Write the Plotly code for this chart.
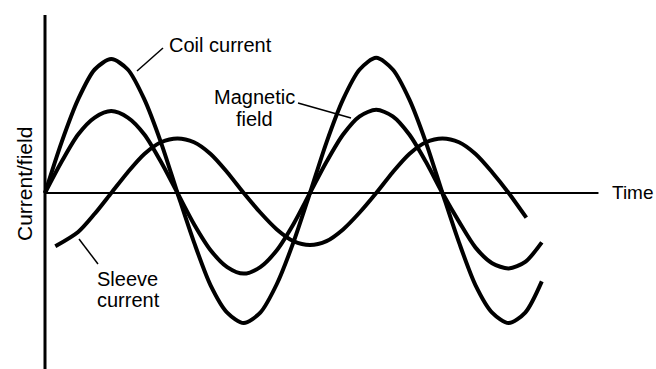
import plotly.graph_objects as go

# Phase (degrees of time) and values
coil_t = [0, 22.5, 45, 67.5, 90, 112.5, 135, 157.5, 180, 202.5, 225, 247.5, 270, 292.5, 315, 337.5,
          360, 382.5, 405, 427.5, 450, 472.5, 495, 517.5, 540, 562.5, 585, 607.5, 630, 652.5, 675]
coil_v = [0, 0.39, 0.72, 0.95, 1.03, 0.95, 0.72, 0.39, 0, -0.38, -0.71, -0.92, -1.0, -0.92, -0.70, -0.38,
          0, 0.39, 0.72, 0.95, 1.04, 0.95, 0.72, 0.39, 0, -0.38, -0.71, -0.92, -1.0, -0.92, -0.68]

field_t = [0, 22.5, 45, 67.5, 90, 112.5, 135, 157.5, 180, 202.5, 225, 247.5, 270, 292.5, 315, 337.5,
           360, 382.5, 405, 427.5, 450, 472.5, 495, 517.5, 540, 562.5, 585, 607.5, 630, 652.5, 675]
field_v = [0, 0.24, 0.45, 0.58, 0.63, 0.58, 0.45, 0.24, 0, -0.24, -0.44, -0.57, -0.62, -0.57, -0.44, -0.24,
           0, 0.24, 0.45, 0.59, 0.64, 0.59, 0.45, 0.24, 0, -0.22, -0.42, -0.54, -0.58, -0.53, -0.38]

sleeve_t = [14, 45, 67.5, 90, 112.5, 135, 157.5, 180, 202.5, 225, 247.5, 270, 292.5, 315, 337.5,
            360, 382.5, 405, 427.5, 450, 472.5, 495, 517.5, 540, 562.5, 585, 607.5, 630, 654]
sleeve_v = [-0.41, -0.30, -0.16, 0, 0.16, 0.30, 0.39, 0.42, 0.39, 0.30, 0.16, 0, -0.15, -0.28, -0.37,
            -0.40, -0.37, -0.28, -0.15, 0, 0.16, 0.30, 0.39, 0.42, 0.39, 0.30, 0.16, 0, -0.19]

W, H = 656, 369
FONT = "Liberation Sans, Arial, sans-serif"

def px(x):
    return x / W

def py(y):
    return 1 - y / H

fig = go.Figure()
for t, v, name in [(coil_t, coil_v, "Coil current"),
                   (field_t, field_v, "Magnetic field"),
                   (sleeve_t, sleeve_v, "Sleeve current")]:
    fig.add_trace(go.Scatter(x=t, y=v, mode="lines", name=name,
                             line=dict(color="black", width=4, shape="spline", smoothing=0.8),
                             showlegend=False, hoverinfo="skip"))

# axes drawn as lines (layout, not data)
shapes = [
    dict(type="line", xref="x", yref="paper", x0=0, x1=0, y0=py(15), y1=0,
         line=dict(color="black", width=3)),
    dict(type="line", xref="x", yref="y", x0=0, x1=752, y0=0, y1=0,
         line=dict(color="black", width=2)),
    # leader lines
    dict(type="line", xref="paper", yref="paper", x0=px(137), y0=py(71), x1=px(163), y1=py(48),
         line=dict(color="black", width=1.5)),
    dict(type="line", xref="paper", yref="paper", x0=px(298), y0=py(103), x1=px(351), y1=py(118),
         line=dict(color="black", width=1.5)),
    dict(type="line", xref="paper", yref="paper", x0=px(79), y0=py(239), x1=px(98), y1=py(264),
         line=dict(color="black", width=1.5)),
]

def ann(text, x, y, xanchor="center", size=20, angle=0):
    return dict(text=text, xref="paper", yref="paper", x=px(x), y=py(y),
                xanchor=xanchor, yanchor="middle", showarrow=False, textangle=angle,
                font=dict(family=FONT, size=size, color="black"))

annotations = [
    ann("Coil current", 167, 45, xanchor="left"),
    ann("Magnetic", 254, 97),
    ann("field", 254, 119),
    ann("Sleeve", 127, 279),
    ann("current", 128, 300),
    ann("Time", 610, 193, xanchor="left", size=19),
    ann("Current/field", 24, 184, size=21, angle=-90),
]

fig.update_layout(
    width=W, height=H,
    margin=dict(l=0, r=0, t=0, b=0),
    paper_bgcolor="white", plot_bgcolor="white",
    xaxis=dict(range=[-45 / 0.736, (W - 45) / 0.736], visible=False, fixedrange=True),
    yaxis=dict(range=[(193 - H) / 130, 193 / 130], visible=False, fixedrange=True),
    shapes=shapes, annotations=annotations,
)

fig.write_html("out.html")
